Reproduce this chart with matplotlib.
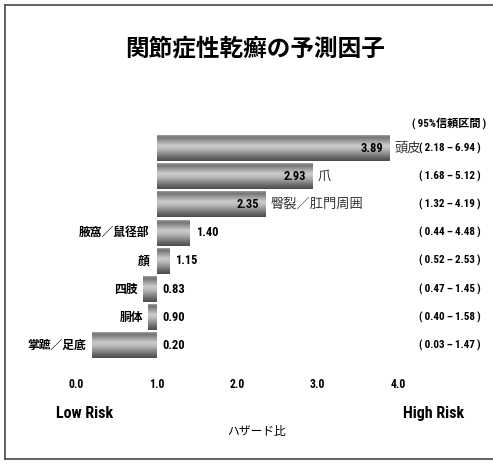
import matplotlib.pyplot as plt
import numpy as np

# hazard ratios by lesion site
sites = ['頭皮', '爪', '臀裂／肛門周囲', '腋窩／鼠径部', '顔', '四肢', '胴体', '掌蹠／足底']
hazard = [3.89, 2.93, 2.35, 1.40, 1.15, 0.83, 0.90, 0.20]
ci_low = [2.18, 1.68, 1.32, 0.44, 0.52, 0.47, 0.40, 0.03]
ci_high = [6.94, 5.12, 4.19, 4.48, 2.53, 1.45, 1.58, 1.47]
ticks = [0.0, 1.0, 2.0, 3.0, 4.0]

plt.rcParams['font.family'] = ['Roboto Condensed', 'Archivo Narrow', 'DejaVu Sans',
                               'Noto Sans CJK JP']
plt.rcParams['font.stretch'] = 'condensed'
jp = ['Noto Sans CJK JP', 'DejaVu Sans']
sp = '\u2009'

fig = plt.figure(figsize=(4.93, 4.65), dpi=100)
W, H = 493, 465
ax = fig.add_axes([76/W, (H-359.6)/H, 322/W, 225.7/H])

# metallic shading across each bar (top -> bottom)
t = np.linspace(0, 1, 60)
shade = np.interp(t, [0, 0.08, 0.4, 0.55, 0.85, 1], [0.62, 0.45, 0.80, 0.72, 0.42, 0.30])
shade = shade.reshape(-1, 1)

bh = 0.46
for i, h in enumerate(hazard):
    left, right = min(1.0, h), max(1.0, h)
    ax.imshow(shade, extent=(left, right, i+bh, i-bh), cmap='gray', vmin=0, vmax=1,
              aspect='auto', interpolation='bilinear', zorder=2)

    if h >= 2:
        ax.annotate(f'{h:.2f}', (h, i), xytext=(-4, 0), textcoords='offset points',
                    ha='right', va='center', fontsize=9, fontweight='bold')
        ax.annotate(sites[i], (h, i), xytext=(4, 0), textcoords='offset points',
                    ha='left', va='center', fontsize=9.5, family=jp, color='#333333')
    elif h >= 1:
        ax.annotate(sites[i], (1.0, i), xytext=(-5, 0), textcoords='offset points',
                    ha='right', va='center', fontsize=8.5, family=jp, fontweight='bold')
        ax.annotate(f'{h:.2f}', (h, i), xytext=(5, 0), textcoords='offset points',
                    ha='left', va='center', fontsize=9, fontweight='bold')
    else:
        ax.annotate(sites[i], (h, i), xytext=(-4, 0), textcoords='offset points',
                    ha='right', va='center', fontsize=8.5, family=jp, fontweight='bold')
        ax.annotate(f'{h:.2f}', (1.0, i), xytext=(4, 0), textcoords='offset points',
                    ha='left', va='center', fontsize=9, fontweight='bold')

    ax.text(4.64, i, f'({sp}{ci_low[i]:.2f}{sp}–{sp}{ci_high[i]:.2f}{sp})', ha='center',
            va='center', fontsize=8, fontweight='bold', clip_on=False)

ax.text(4.64, -0.89, f'({sp}95%信頼区間{sp})', ha='center', va='center', fontsize=8,
        fontweight='bold', clip_on=False)

ax.set_xlim(0, 4)
ax.set_ylim(7.5, -0.5)
ax.set_xticks(ticks)
ax.set_xticklabels([f'{v:.1f}' for v in ticks], fontsize=8.5, fontweight='bold')
ax.set_yticks([])
ax.tick_params(axis='x', length=0, pad=13)
for s in ax.spines.values():
    s.set_visible(False)
ax.patch.set_alpha(0)

fig.text(255/W, 1-48/H, '関節症性乾癬の予測因子', ha='center', va='center',
         fontsize=17, fontweight='bold', family=jp)
fig.text(85/W, 1-413/H, 'Low Risk', ha='center', va='center', fontsize=11.5, fontweight='bold')
fig.text(434/W, 1-413/H, 'High Risk', ha='center', va='center', fontsize=11.5, fontweight='bold')
fig.text(256/W, 1-431/H, 'ハザード比', ha='center', va='center', fontsize=8.5, family=jp)

# frame (open on the right)
kw = dict(color='#555555', lw=1.3, transform=fig.transFigure)
fig.add_artist(plt.Line2D([5/W, 1], [1-5/H, 1-5/H], **kw))
fig.add_artist(plt.Line2D([5/W, 5/W], [1-5/H, 1-459/H], **kw))
fig.add_artist(plt.Line2D([5/W, 1], [1-459/H, 1-459/H], **kw))

plt.savefig('out.png', dpi=100)
